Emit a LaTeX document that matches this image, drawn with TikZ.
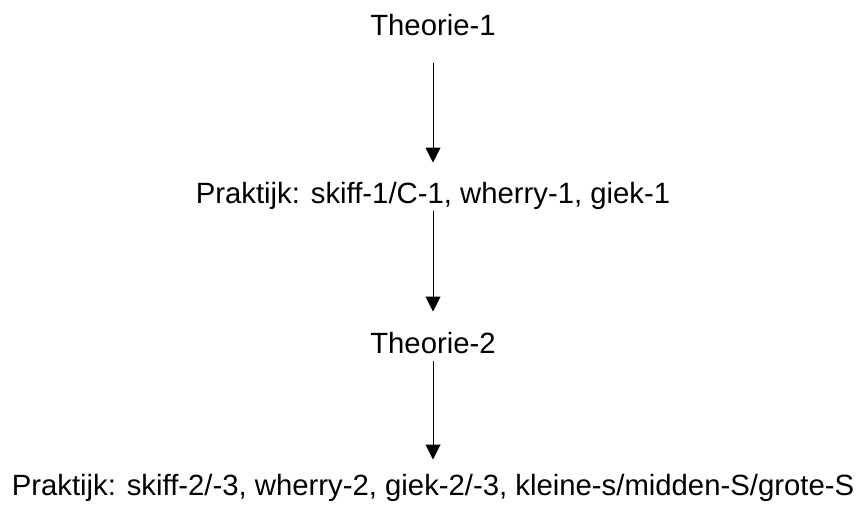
\documentclass[tikz,border=0pt]{standalone}
\usepackage{fontspec}
\setmainfont{Liberation Sans}
\usetikzlibrary{arrows.meta}
\begin{document}
\begin{tikzpicture}[x=1pt, y=1pt, line width=1pt, >={Triangle[width=15pt,length=15pt]}]
        \tikzset{stage/.style={anchor=base, inner sep=0pt, text height=21pt, text depth=0pt, font=\fontsize{29.3pt}{35pt}\selectfont}}
        \useasboundingbox (0,0) rectangle (859,-506);
        % the four stages, one under the other
        \node[stage] (theorie1) at (433,-35) {Theorie-1};
        \node[stage] (praktijk1) at (433,-203) {Praktijk: skiff-1/C-1, wherry-1, giek-1};
        \node[stage] (theorie2) at (433,-353) {Theorie-2};
        \node[stage] (praktijk2) at (433,-495) {Praktijk: skiff-2/-3, wherry-2, giek-2/-3, kleine-s/midden-S/grote-S};
        \draw[->, shorten <=27pt, shorten >=19pt] (theorie1) -- (praktijk1);
        \draw[->, shorten <=7pt, shorten >=20pt] (praktijk1) -- (theorie2);
        \draw[->, shorten <=7pt, shorten >=14pt] (theorie2) -- (praktijk2);
    \end{tikzpicture}
\end{document}
